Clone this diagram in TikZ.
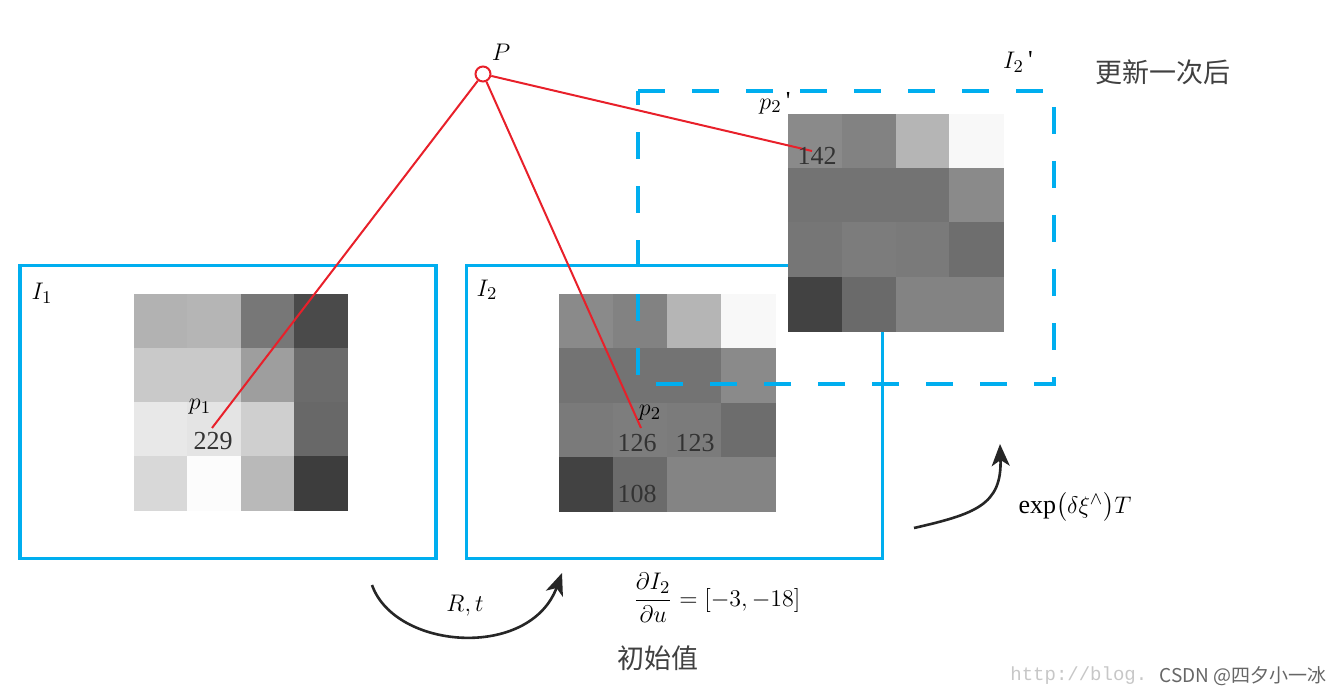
\documentclass[tikz,border=0pt]{standalone}
\usepackage{amsmath}
\usepackage{fontspec}
\setmainfont{Liberation Serif}
\newfontfamily\cjk{Noto Sans CJK SC}
\newfontfamily\wmfont{Liberation Mono}
\usetikzlibrary{arrows.meta, positioning}
\definecolor{boxblue}{HTML}{00AEEF}
\definecolor{rayred}{HTML}{E8202A}
\tikzset{
    >={Stealth[length=11pt, width=9pt, inset=3pt]},
    imgbox/.style={draw=boxblue, line width=1.7pt, minimum width=208pt,
        minimum height=146.5pt, inner sep=0pt},
    newbox/.style={draw=boxblue, line width=1.7pt, dash pattern=on 13.5pt off 13.5pt},
    ray/.style={draw=rayred, line width=1pt},
    motion/.style={->, line width=1.3pt, black!85},
    lbl/.style={font=\fontsize{13}{15}\selectfont, inner sep=1pt},
    val/.style={font=\fontsize{13}{15}\selectfont, text=black!80, inner sep=0pt},
    zh/.style={font=\cjk\fontsize{13.5}{15}\selectfont, text=black!75}
}
% 4x4 patch of gray pixels: x, y, cell width, cell height, 16 levels
\newcommand{\graypatch}[5]{%
    \foreach \v [count=\k from 0] in {#5} {
        \pgfmathtruncatemacro{\cx}{mod(\k,4)}
        \pgfmathtruncatemacro{\cy}{div(\k,4)}
        \definecolor{cellc}{RGB}{\v,\v,\v}
        \fill[cellc] ({#1+\cx*#3},{#2+\cy*#4}) rectangle ++({#3+0.5},{#4+0.5});
    }}

\begin{document}
\begin{tikzpicture}[x=0.5pt, y=-0.5pt]
    \useasboundingbox (0,0) rectangle (1343,695);

    % the two frames
    \node[imgbox] (I1box) at (228,412) {};
    \node[imgbox] (I2box) at (674.5,412) {};

    \graypatch{134}{294}{53.25}{54}{178,181,119,74, 201,201,158,107, 232,228,207,104, 216,252,185,61}
    \graypatch{559}{294}{54}{54.25}{138,130,181,248, 115,115,115,138, 122,125,123,109, 66,107,132,132}

    % frame after one update
    \coordinate (nw) at (638,91);
    \coordinate (ne) at (1054,91);
    \coordinate (se) at (1054,384);
    \coordinate (sw) at (638,384);
    \draw[newbox] (nw) -- (ne) -- (se) -- (sw) -- cycle;
    \graypatch{788}{114}{53.75}{54.25}{138,130,181,248, 115,115,115,138, 118,124,122,110, 66,106,131,131}

    % the point and its projections
    \node[circle, draw=rayred, line width=1pt, fill=white, minimum size=7.5pt, inner sep=0pt] (P) at (483,74) {};
    \coordinate (p1) at (212,428);
    \coordinate (p2) at (641,428);
    \coordinate (p2n) at (812,151);
    \draw[ray] (P) -- (p1);
    \draw[ray] (P) -- (p2);
    \draw[ray] (P) -- (p2n);

    \node[lbl] (Plbl) at (501,52) {$P$};
    \node[lbl] (I1lbl) at (42,293) {$I_1$};
    \node[lbl] (I2lbl) at (487,290) {$I_2$};
    \node[lbl] (I2nlbl) at (1018,62) {$I_2$\,\textquotesingle};
    \node[zh] (upd) at (1163,72) {更新一次后};

    \node[lbl] (p1lbl) at (200,407) {$p_1$};
    \node[val] (v229) at (213,441) {229};
    \node[lbl] (p2lbl) at (650,413) {$p_2$};
    \node[val] (v126) at (637,443) {126};
    \node[val] (v123) at (695,443) {123};
    \node[val] (v108) at (637,494) {108};
    \node[lbl] (p2nlbl) at (775,103) {$p_2$\,\textquotesingle};
    \node[val] (v142) at (817,156) {142};

    % motions
    \coordinate (rtA) at (372,585);
    \coordinate (rtB) at (562,573);
    \draw[motion] (rtA) .. controls (395,650) and (530,660) .. (rtB);
    \node[lbl] (rt) at (465,606) {$R,t$};

    \coordinate (upA) at (914,528);
    \coordinate (upB) at (1000,444);
    \draw[motion] (upA) .. controls (975,514) and (1002,505) .. (upB);
    \node[lbl] (expl) at (1075,507) {$\exp\bigl(\delta\xi^{\wedge}\bigr)T$};

    \node[lbl] (grad) at (717,598) {$\dfrac{\partial I_2}{\partial u}=\left[-3,-18\right]$};
    \node[zh] (init) at (658,658) {初始值};

    % watermark
    \node[font=\wmfont\fontsize{9.5}{11}\selectfont, text=black!22, anchor=west, inner sep=0pt] (wmurl) at (1010,676) {http://blog.};
    \node[font=\cjk\fontsize{9.5}{11}\selectfont, text=black!60, anchor=east, inner sep=0pt] (wm) at (1327,676) {CSDN @四夕小一冰};
\end{tikzpicture}
\end{document}
